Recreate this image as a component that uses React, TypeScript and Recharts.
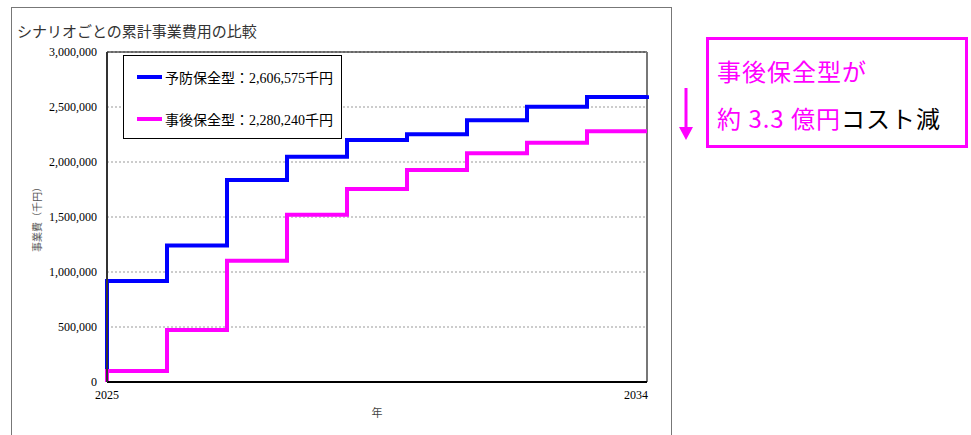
import React from 'react';
import { LineChart, Line, XAxis, YAxis, CartesianGrid, Legend, ReferenceLine } from 'recharts';

// cumulative project cost (thousand yen)
const years = [2025, 2026, 2027, 2028, 2029, 2030, 2031, 2032, 2033, 2034];
const preventiveCumulative = [0, 918000, 1240000, 1836000, 2048000, 2200000, 2252000, 2379000, 2503000, 2591000];
const reactiveCumulative = [0, 100000, 473000, 1103000, 1520000, 1755000, 1927000, 2079000, 2176000, 2280240];
const preventiveTotal = 2606575;
const reactiveTotal = 2280240;
const seriesNames = ['予防保全型', '事後保全型'];
const yTicks = [0, 500000, 1000000, 1500000, 2000000, 2500000, 3000000];
const xTicks = [2025, 2034];

const preventiveData = [
    ...years.map((y, i) => ({ year: y, value: preventiveCumulative[i] })),
    { year: years[years.length - 1], value: preventiveTotal },
];
const reactiveData = years.map((y, i) => ({ year: y, value: reactiveCumulative[i] }));
const totals: Record<string, number> = { [seriesNames[0]]: preventiveTotal, [seriesNames[1]]: reactiveTotal };

const fmt = (v: number) => v.toLocaleString('en-US');
const serif = '"Liberation Serif", "Noto Sans CJK JP", serif';
const sans = '"Noto Sans CJK JP", sans-serif';

const XTick = (props: any) => {
    const { x, y, payload } = props;
    const last = payload.value === xTicks[xTicks.length - 1];
    return (
        <text x={last ? x + 1 : x} y={y} dy="0.75em" textAnchor={last ? 'end' : 'middle'}
            fontSize={12} fontFamily={serif} fill="#000">
            {payload.value}
        </text>
    );
};

const LegendBox = (props: any) => {
    const { payload } = props;
    return (
        <div style={{
            boxSizing: 'border-box', width: 219, height: 84, border: '1px solid #000', background: '#fff',
            paddingLeft: 13, paddingTop: 10,
        }}>
            {(payload || []).map((p: any) => (
                <div key={p.value} style={{ display: 'flex', alignItems: 'center', height: 21, marginBottom: 21 }}>
                    <span style={{ display: 'inline-block', width: 25, height: 4, background: p.color, marginRight: 3 }} />
                    <span style={{ fontFamily: serif, fontSize: 14, color: '#000', whiteSpace: 'nowrap' }}>
                        {p.value}：{fmt(totals[p.value])}千円
                    </span>
                </div>
            ))}
        </div>
    );
};

const App: React.FC = () => {
    return (
        <div style={{ position: 'absolute', left: 0, top: 0, width: 971, height: 435, overflow: 'hidden', background: '#fff' }}>
            <div style={{ position: 'absolute', left: 11, top: 7, width: 661, height: 450, border: '1px solid #777', boxSizing: 'border-box' }} />
            <div style={{ position: 'absolute', left: 17, top: 20, fontFamily: serif, fontSize: 15, color: '#333', whiteSpace: 'nowrap' }}>
                シナリオごとの累計事業費用の比較
            </div>

            <div style={{ position: 'absolute', left: 0, top: 0 }}>
                <LineChart width={690} height={435} margin={{ top: 52, right: 43, bottom: 13, left: 0 }}>
                    <CartesianGrid vertical={false} stroke="#999" strokeDasharray="2 2" />
                    <XAxis
                        dataKey="year"
                        type="number"
                        domain={[2025, 2034]}
                        ticks={xTicks}
                        height={40}
                        axisLine={{ stroke: '#000', strokeWidth: 2 }}
                        tickLine={false}
                        tickSize={0}
                        tickMargin={8}
                        tick={<XTick />}
                        label={{
                            content: (p: any) => {
                                const vb = p.viewBox;
                                return (
                                    <text x={vb.x + vb.width / 2} y={vb.y + 30} textAnchor="middle" dominantBaseline="central"
                                        fontSize={11} fontFamily={sans} fill="#444">年</text>
                                );
                            },
                        }}
                    />
                    <YAxis
                        type="number"
                        domain={[0, 3000000]}
                        ticks={yTicks}
                        width={107}
                        axisLine={{ stroke: '#333', strokeWidth: 2 }}
                        tickLine={false}
                        tickSize={0}
                        tickMargin={10}
                        tickFormatter={fmt}
                        tick={{ fontSize: 12, fontFamily: serif, fill: '#000' }}
                        label={{
                            content: (p: any) => {
                                const vb = p.viewBox;
                                const cx = vb.x + 36;
                                const cy = vb.y + vb.height / 2;
                                return (
                                    <text x={cx} y={cy} transform={`rotate(-90 ${cx} ${cy})`} textAnchor="middle"
                                        dominantBaseline="central" fontSize={10} fontFamily={sans} fill="#555">
                                        事業費（千円）
                                    </text>
                                );
                            },
                        }}
                    />
                    <ReferenceLine y={3000000} stroke="#000" strokeWidth={1} />
                    <ReferenceLine x={2034} stroke="#777" strokeWidth={2} />
                    <Legend
                        layout="vertical"
                        align="center"
                        verticalAlign="middle"
                        wrapperStyle={{ left: 123, top: 55, width: 219, height: 84 }}
                        content={<LegendBox />}
                    />
                    <Line
                        data={preventiveData}
                        dataKey="value"
                        name={seriesNames[0]}
                        type="stepBefore"
                        stroke="#0000ff"
                        strokeWidth={4}
                        dot={false}
                        activeDot={false}
                        isAnimationActive={false}
                    />
                    <Line
                        data={reactiveData}
                        dataKey="value"
                        name={seriesNames[1]}
                        type="stepBefore"
                        stroke="#ff00ff"
                        strokeWidth={4}
                        dot={false}
                        activeDot={false}
                        isAnimationActive={false}
                    />
                </LineChart>
            </div>

            <svg style={{ position: 'absolute', left: 676, top: 85 }} width={20} height={60}>
                <line x1={10} y1={3} x2={10} y2={44} stroke="#ff00ff" strokeWidth={3} />
                <polygon points="3,42 17,42 10,55" fill="#ff00ff" />
            </svg>
            <div style={{
                position: 'absolute', left: 706, top: 37, width: 262, height: 111, boxSizing: 'border-box',
                border: '3px solid #ff00ff', fontFamily: sans, fontSize: 24, letterSpacing: 1, whiteSpace: 'nowrap',
            }}>
                <div style={{ position: 'absolute', left: 8, top: 15, lineHeight: '32px', color: '#ff00ff' }}>事後保全型が</div>
                <div style={{ position: 'absolute', left: 8, top: 62, lineHeight: '32px' }}>
                    <span style={{ color: '#ff00ff' }}>約 3.3 億円</span>
                    <span style={{ color: '#000' }}>コスト減</span>
                </div>
            </div>
        </div>
    );
};

export default App;
